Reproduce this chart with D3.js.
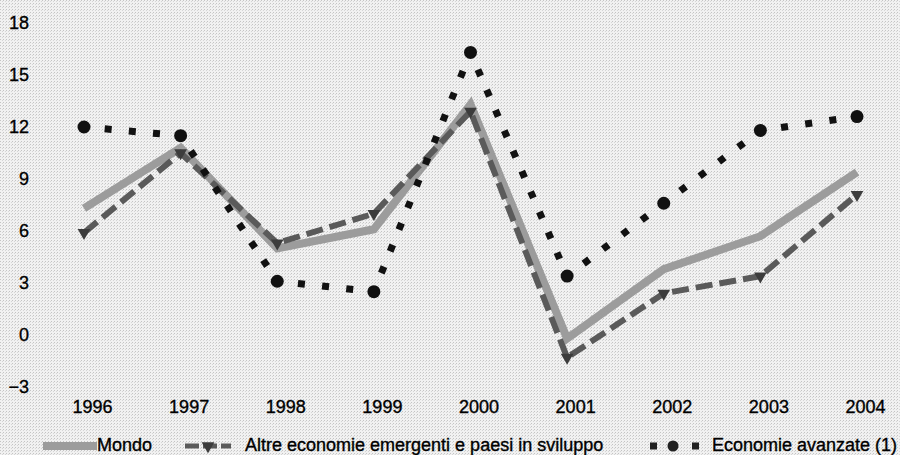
<!DOCTYPE html>
<html>
<head>
<meta charset="utf-8">
<script src="https://cdn.jsdelivr.net/npm/d3@7"></script>
<style>
  html, body { margin: 0; padding: 0; background: #ffffff; }
  svg { display: block; }
  text { font-family: "Liberation Sans", Arial, Helvetica, sans-serif; fill: #000; stroke: #000; stroke-width: 0.35px; }
</style>
</head>
<body>
<div id="chart"></div>
<script>
// ---- data ----
const years = ["1996", "1997", "1998", "1999", "2000", "2001", "2002", "2003", "2004"];
const mondo = [7.3, 10.8, 5.0, 6.1, 13.3, -0.2, 3.8, 5.7, 9.4];
const altre = [5.9, 10.5, 5.3, 7.0, 12.9, -1.3, 2.4, 3.4, 8.1];
const avanzate = [12.0, 11.5, 3.1, 2.5, 16.3, 3.4, 7.6, 11.8, 12.6];
const yTicks = [-3, 0, 3, 6, 9, 12, 15, 18];
const legendLabels = ["Mondo", "Altre economie emergenti e paesi in sviluppo", "Economie avanzate (1)"];

const W = 900, H = 455;
const svg = d3.select("#chart").append("svg").attr("width", W).attr("height", H);

// textured light background resembling the scan
const defs = svg.append("defs");
const pat = defs.append("pattern").attr("id", "bg").attr("width", 3).attr("height", 3)
  .attr("patternUnits", "userSpaceOnUse");
pat.append("rect").attr("width", 3).attr("height", 3).attr("fill", "#f1f1f1");
pat.append("rect").attr("x", 0).attr("y", 0).attr("width", 1).attr("height", 1).attr("fill", "#c4c4c4");
pat.append("rect").attr("x", 2).attr("y", 1).attr("width", 1).attr("height", 1).attr("fill", "#d6d6d6");
svg.append("rect").attr("width", W).attr("height", H).attr("fill", "url(#bg)");

const x = d3.scalePoint().domain(years).range([84, 857]);
const y = d3.scaleLinear().domain([-3, 18]).range([387, 23]);

// axes (labels only)
const yAxis = svg.append("g").attr("transform", "translate(29,0)")
  .call(d3.axisLeft(y).tickValues(yTicks).tickSize(0).tickPadding(0).tickFormat(d3.format("d")));
yAxis.select(".domain").remove();
yAxis.selectAll("text").attr("font-size", 18).attr("font-family", "Liberation Sans, Arial, sans-serif").attr("fill", "#000");

const xAxis = svg.append("g").attr("transform", "translate(8,400)")
  .call(d3.axisBottom(x).tickSize(0).tickPadding(0));
xAxis.select(".domain").remove();
xAxis.selectAll("text").attr("font-size", 18).attr("font-family", "Liberation Sans, Arial, sans-serif").attr("fill", "#000");

const line = d3.line().x((d, i) => x(years[i])).y(d => y(d));

// Mondo: thick grey solid
svg.append("path").datum(mondo).attr("d", line)
  .attr("fill", "none").attr("stroke", "#9c9c9c").attr("stroke-width", 8)
  .attr("stroke-linejoin", "miter");

// Altre: dark dashed with triangle markers
svg.append("path").datum(altre).attr("d", line)
  .attr("fill", "none").attr("stroke", "#5a5a5a").attr("stroke-width", 6)
  .attr("stroke-dasharray", "17 7");
const tri = d3.symbol().type(d3.symbolTriangle).size(70);
svg.append("g").selectAll("path").data(altre).join("path")
  .attr("d", tri)
  .attr("transform", (d, i) => `translate(${x(years[i])},${y(d)}) rotate(180)`)
  .attr("fill", "#3c3c3c");

// Economie avanzate: black square dots, evenly spaced per segment
const gAv = svg.append("g");
for (let i = 0; i < avanzate.length - 1; i++) {
  const x0 = x(years[i]), y0 = y(avanzate[i]), x1 = x(years[i + 1]), y1 = y(avanzate[i + 1]);
  const L = Math.hypot(x1 - x0, y1 - y0);
  const n = Math.max(1, Math.round(L / 23));
  const p = L / n, d = 7;
  gAv.append("line").attr("x1", x0).attr("y1", y0).attr("x2", x1).attr("y2", y1)
    .attr("stroke", "#111").attr("stroke-width", 7)
    .attr("stroke-dasharray", `${d} ${p - d}`).attr("stroke-dashoffset", d / 2);
}
gAv.selectAll("circle").data(avanzate).join("circle")
  .attr("cx", (d, i) => x(years[i])).attr("cy", d => y(d)).attr("r", 6.5).attr("fill", "#111");

// legend
const leg = svg.append("g");
const ly = 446;
leg.append("line").attr("x1", 43).attr("x2", 97).attr("y1", ly).attr("y2", ly)
  .attr("stroke", "#9c9c9c").attr("stroke-width", 8);
leg.append("text").attr("x", 97).attr("y", 451).attr("font-size", 18).text(legendLabels[0]);

leg.append("line").attr("x1", 185).attr("x2", 231).attr("y1", ly).attr("y2", ly)
  .attr("stroke", "#5a5a5a").attr("stroke-width", 5).attr("stroke-dasharray", "14 4");
leg.append("path").attr("d", tri).attr("transform", `translate(208,${ly}) rotate(180)`).attr("fill", "#3c3c3c");
leg.append("text").attr("x", 245).attr("y", 451).attr("font-size", 18).text(legendLabels[1]);

leg.append("rect").attr("x", 650).attr("y", ly - 3.5).attr("width", 7).attr("height", 7).attr("fill", "#222");
leg.append("circle").attr("cx", 673).attr("cy", ly).attr("r", 5.5).attr("fill", "#222");
leg.append("rect").attr("x", 692).attr("y", ly - 3.5).attr("width", 7).attr("height", 7).attr("fill", "#222");
leg.append("text").attr("x", 712).attr("y", 451).attr("font-size", 18).text(legendLabels[2]);
</script>
</body>
</html>
